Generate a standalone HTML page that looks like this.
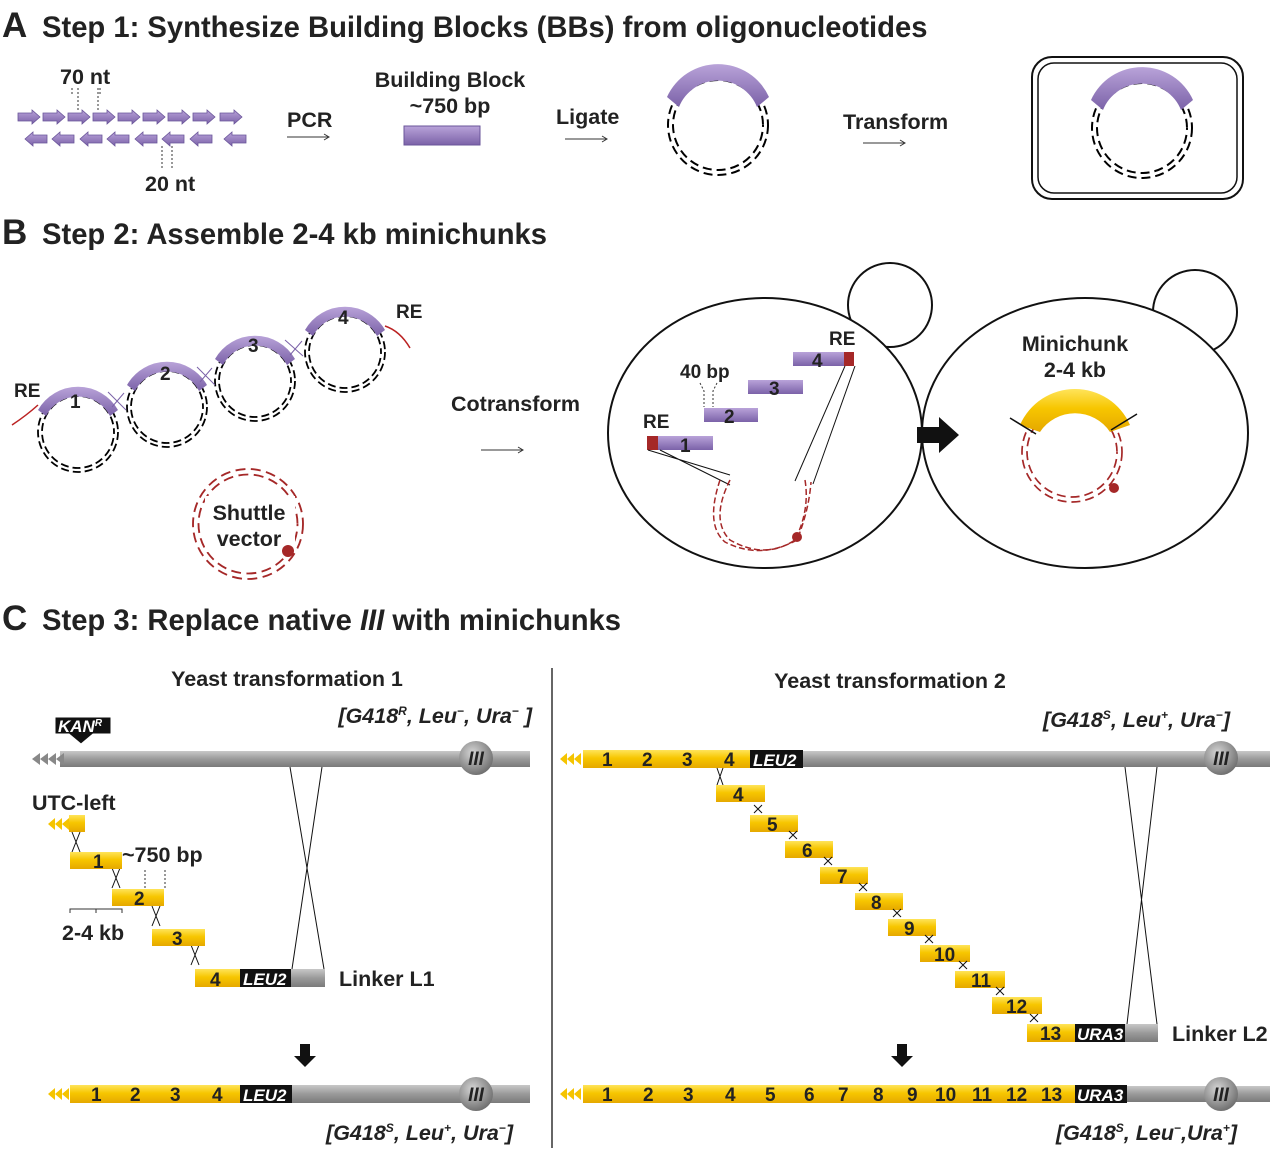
<!DOCTYPE html>
<html><head><meta charset="utf-8"><style>
html,body{margin:0;padding:0;background:#fff}
svg{display:block}
text{font-family:"Liberation Sans",Arial,sans-serif;font-weight:bold;fill:#222}
.t{font-size:29.2px}
.L{font-size:35px}
.m{font-size:21.5px}
.n{font-size:19px}
.i{font-style:italic}
.w{fill:#fff;font-style:italic;font-size:17px}
</style></head><body>
<svg width="1280" height="1158" viewBox="0 0 1280 1158" xmlns="http://www.w3.org/2000/svg">
<defs>
<linearGradient id="y" x1="0" y1="0" x2="0" y2="1"><stop offset="0" stop-color="#ffe45a"/><stop offset="0.45" stop-color="#f7c600"/><stop offset="1" stop-color="#e5a800"/></linearGradient>
<linearGradient id="p" x1="0" y1="0" x2="0" y2="1"><stop offset="0" stop-color="#b9a3d9"/><stop offset="1" stop-color="#7b62a8"/></linearGradient>
<linearGradient id="g" x1="0" y1="0" x2="0" y2="1"><stop offset="0" stop-color="#c8c8c8"/><stop offset="0.5" stop-color="#9a9a9a"/><stop offset="1" stop-color="#7a7a7a"/></linearGradient>
<radialGradient id="c" cx="0.4" cy="0.35" r="0.7"><stop offset="0" stop-color="#d5d5d5"/><stop offset="1" stop-color="#6a6a6a"/></radialGradient>
<g id="pr"><path d="M0,-4 h14 v-3 l8,7 -8,7 v-3 h-14z" fill="url(#p)" stroke="#6a559a" stroke-width="0.8"/></g>
<g id="pl"><path d="M22,-4 h-14 v-3 l-8,7 8,7 v-3 h14z" fill="url(#p)" stroke="#6a559a" stroke-width="0.8"/></g>
<g id="helix" fill="none" stroke="#000" stroke-width="2"><circle r="50" stroke-dasharray="9 5"/><circle r="45" stroke-dasharray="9 5" stroke-dashoffset="7"/></g>
<g id="rhelix" fill="none" stroke="#a52828" stroke-width="1.7"><circle r="50" stroke-dasharray="9 5"/><circle r="45" stroke-dasharray="9 5" stroke-dashoffset="7"/></g>
<g id="sh" fill="none" stroke="#000" stroke-width="1.8"><circle r="40" stroke-dasharray="8 4"/><circle r="36" stroke-dasharray="8 4" stroke-dashoffset="6"/></g>
</defs>

<!-- A -->
<text x="2" y="37" class="L">A</text><text x="42" y="37" class="t">Step 1: Synthesize Building Blocks (BBs) from oligonucleotides</text>
<g>
<use href="#pr" x="18" y="117"/><use href="#pr" x="43" y="117"/><use href="#pr" x="68" y="117"/><use href="#pr" x="93" y="117"/><use href="#pr" x="118" y="117"/><use href="#pr" x="143" y="117"/><use href="#pr" x="168" y="117"/><use href="#pr" x="193" y="117"/><use href="#pr" x="220" y="117"/>
<use href="#pl" x="25" y="139"/><use href="#pl" x="52" y="139"/><use href="#pl" x="80" y="139"/><use href="#pl" x="107" y="139"/><use href="#pl" x="135" y="139"/><use href="#pl" x="162" y="139"/><use href="#pl" x="190" y="139"/><use href="#pl" x="224" y="139"/>
</g>
<text x="60" y="84" class="m">70 nt</text>
<path d="M72,88 v6 M78,88 v22 M98,88 v22 M100,88 v6" stroke="#333" stroke-dasharray="2 2" fill="none"/>
<path d="M162,146 v22 M172,146 v22" stroke="#333" stroke-dasharray="2 2"/>
<text x="145" y="191" class="m">20 nt</text>
<text x="287" y="127" class="m">PCR</text><path d="M287,137 h42 m-5,-3 l5,3 -5,3" stroke="#333" fill="none"/>
<text x="450" y="87" class="m" text-anchor="middle">Building Block</text>
<text x="450" y="113" class="m" text-anchor="middle">~750 bp</text>
<rect x="404" y="126" width="76" height="19" fill="url(#p)" stroke="#6a559a"/>
<text x="556" y="124" class="m">Ligate</text><path d="M565,139 h42 m-5,-3 l5,3 -5,3" stroke="#333" fill="none"/>
<use href="#helix" x="718" y="125"/>
<path d="M667,97 A56 56 0 0 1 769,97 L757,107 A42 42 0 0 0 679,107 Z" fill="url(#p)"/>
<text x="843" y="129" class="m">Transform</text><path d="M863,143 h42 m-5,-3 l5,3 -5,3" stroke="#333" fill="none"/>
<rect x="1032" y="57" width="211" height="142" rx="20" fill="none" stroke="#111" stroke-width="2"/>
<rect x="1038" y="63" width="199" height="130" rx="16" fill="none" stroke="#111" stroke-width="1.5"/>
<use href="#helix" x="1142" y="128"/>
<path d="M1091,100 A56 56 0 0 1 1193,100 L1181,110 A42 42 0 0 0 1103,110 Z" fill="url(#p)"/>

<!-- B -->
<text x="2" y="244" class="L">B</text><text x="42" y="244" class="t">Step 2: Assemble 2-4 kb minichunks</text>
<use href="#sh" x="78" y="432"/><path d="M38,410 A46 46 0 0 1 118,410 L110,416 A36 36 0 0 0 46,416 Z" fill="url(#p)"/><text x="70" y="408" class="n">1</text>
<use href="#sh" x="167" y="407"/><path d="M127,385 A46 46 0 0 1 207,385 L199,391 A36 36 0 0 0 135,391 Z" fill="url(#p)"/><text x="160" y="380" class="n">2</text>
<use href="#sh" x="255" y="381"/><path d="M215,359 A46 46 0 0 1 295,359 L287,365 A36 36 0 0 0 223,365 Z" fill="url(#p)"/><text x="248" y="352" class="n">3</text>
<use href="#sh" x="345" y="352"/><path d="M305,330 A46 46 0 0 1 385,330 L377,336 A36 36 0 0 0 313,336 Z" fill="url(#p)"/><text x="338" y="324" class="n">4</text>
<path d="M12,425 q15,-10 26,-20" stroke="#b22" fill="none" stroke-width="1.5"/><text x="14" y="397" class="n">RE</text>
<path d="M385,326 q15,5 25,22" stroke="#b22" fill="none" stroke-width="1.5"/><text x="396" y="318" class="n">RE</text>
<path d="M108,392 l18,18 M197,367 l18,18 M285,340 l18,16 M112,407 l12,-14 M200,382 l12,-14 M290,355 l12,-14" stroke="#7b62a8" fill="none"/>
<use href="#rhelix" x="248" y="524" transform="translate(248 524) scale(1.1) translate(-248 -524)"/>
<rect x="205" y="496" width="90" height="56" fill="#fff"/>
<circle cx="288" cy="551" r="6" fill="#a52828"/>
<text x="249" y="520" class="m" text-anchor="middle">Shuttle</text><text x="249" y="546" class="m" text-anchor="middle">vector</text>
<text x="451" y="411" class="m">Cotransform</text><path d="M481,450 h42 m-5,-3 l5,3 -5,3" stroke="#333" fill="none"/>
<!-- cells -->
<circle cx="890" cy="305" r="42" fill="none" stroke="#111" stroke-width="2"/>
<circle cx="1195" cy="312" r="42" fill="none" stroke="#111" stroke-width="2"/>
<ellipse cx="1085" cy="433" rx="163" ry="135" fill="#fff" stroke="#111" stroke-width="2"/>
<ellipse cx="765" cy="433" rx="157" ry="135" fill="#fff" stroke="#111" stroke-width="2"/>
<path d="M917,427 h22 v-10 l20,18 -20,18 v-10 h-22z" fill="#111"/>
<rect x="657" y="436" width="56" height="14" fill="url(#p)"/><rect x="647" y="436" width="11" height="14" fill="#a52828"/><text x="680" y="452" class="n">1</text>
<rect x="704" y="408" width="54" height="14" fill="url(#p)"/><text x="724" y="423" class="n">2</text>
<rect x="748" y="380" width="55" height="14" fill="url(#p)"/><text x="769" y="395" class="n">3</text>
<rect x="793" y="352" width="52" height="14" fill="url(#p)"/><rect x="844" y="352" width="10" height="14" fill="#a52828"/><text x="812" y="367" class="n">4</text>
<text x="643" y="428" class="n">RE</text><text x="829" y="345" class="n">RE</text><text x="680" y="378" class="n">40 bp</text>
<path d="M700,383 l4,8 v16 M717,383 l-4,8 v16" stroke="#333" stroke-dasharray="2 2" fill="none"/>
<path d="M648,450 l82,25 M660,450 l70,35 M845,366 l-50,115 M855,366 l-42,118" stroke="#111" fill="none"/>
<path d="M730,480 q-20,40 0,60 q35,20 65,0 q15,-30 10,-60" stroke="#a52828" fill="none" stroke-width="1.5" stroke-dasharray="6 3"/>
<path d="M720,480 q-15,45 5,62 q35,18 72,-2 q12,-30 14,-58" stroke="#a52828" fill="none" stroke-width="1.5" stroke-dasharray="6 3"/>
<circle cx="797" cy="537" r="5" fill="#a52828"/>
<text x="1075" y="351" class="m" text-anchor="middle">Minichunk</text><text x="1075" y="377" class="m" text-anchor="middle">2-4 kb</text>
<use href="#rhelix" x="1072" y="452"/>
<path d="M1020,425 A60 60 0 0 1 1130,425 L1110,432 A42 42 0 0 0 1040,432 Z" fill="url(#y)"/>
<path d="M1010,418 l26,16 M1137,414 l-26,16" stroke="#111" stroke-width="1.5"/>
<circle cx="1114" cy="488" r="5" fill="#a52828"/>

<!-- C -->
<text x="2" y="630" class="L">C</text><text x="42" y="630" class="t">Step 3: Replace native <tspan class="i">III</tspan> with minichunks</text>
<line x1="552" y1="668" x2="552" y2="1148" stroke="#333" stroke-width="1.5"/>
<text x="287" y="686" class="m" text-anchor="middle">Yeast transformation 1</text>
<text x="890" y="688" class="m" text-anchor="middle">Yeast transformation 2</text>
<text x="532" y="723" class="m i" text-anchor="end">[G418<tspan font-size="12" dy="-8">R</tspan><tspan dy="8">, Leu</tspan><tspan font-size="12" dy="-8">−</tspan><tspan dy="8">, Ura</tspan><tspan font-size="12" dy="-8">−</tspan><tspan dy="8"> ]</tspan></text>
<text x="1230" y="727" class="m i" text-anchor="end">[G418<tspan font-size="12" dy="-8">S</tspan><tspan dy="8">, Leu</tspan><tspan font-size="12" dy="-8">+</tspan><tspan dy="8">, Ura</tspan><tspan font-size="12" dy="-8">−</tspan><tspan dy="8">]</tspan></text>
<!-- left chromosome -->
<rect x="60" y="751" width="470" height="16" fill="url(#g)"/>
<path d="M32,759 l8,-6 v12z M40,759 l8,-6 v12z M48,759 l8,-6 v12z M56,759 l8,-6 v12z" fill="#888"/>
<circle cx="476" cy="758" r="17" fill="url(#c)"/><text x="476" y="765" class="n i" text-anchor="middle" fill="#111">III</text>
<path d="M55,717 h56 v17 h-18 l-12,10 -12,-10 h-14z" fill="#111" stroke="#fff"/><text x="58" y="732" class="w" font-size="16">KAN<tspan font-size="10" dy="-6">R</tspan></text>
<text x="32" y="810" class="m">UTC-left</text>
<path d="M48,824 l7,-6 v12z M55,824 l7,-6 v12z M62,824 l7,-6 v12z" fill="#f5c400"/>
<rect x="69" y="815" width="16" height="17" fill="url(#y)"/>
<path d="M72,832 l8,20 M80,832 l-8,20 M112,868 l8,20 M120,868 l-8,20 M152,906 l8,20 M160,906 l-8,20 M191,945 l8,20 M199,945 l-8,20" stroke="#111"/>
<rect x="70" y="852" width="52" height="17" fill="url(#y)"/><text x="93" y="868" class="n">1</text>
<text x="122" y="862" class="m">~750 bp</text>
<path d="M145,870 v20 M165,870 v20" stroke="#333" stroke-dasharray="2 2"/>
<rect x="112" y="889" width="52" height="17" fill="url(#y)"/><text x="134" y="905" class="n">2</text>
<path d="M70,913 v-4 h52 v4 M96,909 v4" stroke="#333" fill="none"/>
<text x="62" y="940" class="m">2-4 kb</text>
<rect x="152" y="929" width="53" height="17" fill="url(#y)"/><text x="172" y="945" class="n">3</text>
<rect x="195" y="969" width="45" height="18" fill="url(#y)"/><text x="210" y="986" class="n">4</text>
<rect x="240" y="969" width="51" height="18" fill="#111"/><text x="243" y="985" class="w">LEU2</text>
<rect x="291" y="969" width="34" height="18" fill="url(#g)"/>
<text x="339" y="986" class="m">Linker L1</text>
<path d="M292,969 L322,767 M324,969 L290,767" stroke="#111"/>
<path d="M300,1044 h10 v12 h6 l-11,11 -11,-11 h6z" fill="#111"/>
<!-- left bottom -->
<path d="M48,1094 l7,-6 v12z M55,1094 l7,-6 v12z M62,1094 l7,-6 v12z" fill="#f5c400"/>
<rect x="70" y="1085" width="170" height="18" fill="url(#y)"/>
<rect x="240" y="1085" width="52" height="18" fill="#111"/><text x="243" y="1101" class="w">LEU2</text>
<rect x="292" y="1085" width="238" height="18" fill="url(#g)"/>
<circle cx="476" cy="1094" r="17" fill="url(#c)"/><text x="476" y="1101" class="n i" text-anchor="middle" fill="#111">III</text>
<text x="91" y="1101" class="n">1</text><text x="130" y="1101" class="n">2</text><text x="170" y="1101" class="n">3</text><text x="212" y="1101" class="n">4</text>
<text x="513" y="1140" class="m i" text-anchor="end">[G418<tspan font-size="12" dy="-8">S</tspan><tspan dy="8">, Leu</tspan><tspan font-size="12" dy="-8">+</tspan><tspan dy="8">, Ura</tspan><tspan font-size="12" dy="-8">−</tspan><tspan dy="8">]</tspan></text>
<!-- right top -->
<path d="M560,759 l7,-6 v12z M567,759 l7,-6 v12z M574,759 l7,-6 v12z" fill="#f5c400"/>
<rect x="583" y="750" width="167" height="18" fill="url(#y)"/>
<rect x="750" y="750" width="53" height="18" fill="#111"/><text x="753" y="766" class="w">LEU2</text>
<rect x="803" y="751" width="467" height="16" fill="url(#g)"/>
<circle cx="1221" cy="758" r="17" fill="url(#c)"/><text x="1221" y="765" class="n i" text-anchor="middle" fill="#111">III</text>
<text x="602" y="766" class="n">1</text><text x="642" y="766" class="n">2</text><text x="682" y="766" class="n">3</text><text x="724" y="766" class="n">4</text>
<path d="M717,768 l6,17 M723,768 l-6,17" stroke="#111"/>
<g>
<rect x="716" y="785" width="49" height="17" fill="url(#y)"/><text x="733" y="801" class="n">4</text>
<rect x="750" y="815" width="48" height="17" fill="url(#y)"/><text x="767" y="831" class="n">5</text>
<rect x="785" y="841" width="48" height="17" fill="url(#y)"/><text x="802" y="857" class="n">6</text>
<rect x="820" y="867" width="48" height="17" fill="url(#y)"/><text x="837" y="883" class="n">7</text>
<rect x="855" y="893" width="48" height="17" fill="url(#y)"/><text x="871" y="909" class="n">8</text>
<rect x="888" y="919" width="48" height="17" fill="url(#y)"/><text x="904" y="935" class="n">9</text>
<rect x="920" y="945" width="50" height="17" fill="url(#y)"/><text x="934" y="961" class="n">10</text>
<rect x="955" y="971" width="50" height="17" fill="url(#y)"/><text x="971" y="987" class="n">11</text>
<rect x="992" y="997" width="50" height="17" fill="url(#y)"/><text x="1006" y="1013" class="n">12</text>
<rect x="1027" y="1024" width="48" height="18" fill="url(#y)"/><text x="1040" y="1040" class="n">13</text>
<rect x="1075" y="1024" width="50" height="18" fill="#111"/><text x="1077" y="1040" class="w">URA3</text>
<rect x="1125" y="1024" width="33" height="18" fill="url(#g)"/>
</g>
<g stroke="#111">
<path d="M754,805 l8,8 M762,805 l-8,8 M789,831 l8,8 M797,831 l-8,8 M824,857 l8,8 M832,857 l-8,8 M859,883 l8,8 M867,883 l-8,8 M893,909 l8,8 M901,909 l-8,8 M925,935 l8,8 M933,935 l-8,8 M959,961 l8,8 M967,961 l-8,8 M996,987 l8,8 M1004,987 l-8,8 M1030,1014 l8,8 M1038,1014 l-8,8"/>
<path d="M1127,1024 L1157,767 M1157,1024 L1125,767"/>
</g>
<text x="1172" y="1041" class="m">Linker L2</text>
<path d="M897,1044 h10 v12 h6 l-11,11 -11,-11 h6z" fill="#111"/>
<!-- right bottom -->
<path d="M560,1094 l7,-6 v12z M567,1094 l7,-6 v12z M574,1094 l7,-6 v12z" fill="#f5c400"/>
<rect x="583" y="1085" width="492" height="18" fill="url(#y)"/>
<rect x="1075" y="1085" width="52" height="18" fill="#111"/><text x="1077" y="1101" class="w">URA3</text>
<rect x="1127" y="1086" width="143" height="16" fill="url(#g)"/>
<circle cx="1221" cy="1094" r="17" fill="url(#c)"/><text x="1221" y="1101" class="n i" text-anchor="middle" fill="#111">III</text>
<text x="602" y="1101" class="n">1</text><text x="643" y="1101" class="n">2</text><text x="683" y="1101" class="n">3</text><text x="725" y="1101" class="n">4</text><text x="765" y="1101" class="n">5</text><text x="804" y="1101" class="n">6</text><text x="838" y="1101" class="n">7</text><text x="873" y="1101" class="n">8</text><text x="907" y="1101" class="n">9</text><text x="935" y="1101" class="n">10</text><text x="972" y="1101" class="n">11</text><text x="1006" y="1101" class="n">12</text><text x="1041" y="1101" class="n">13</text>
<text x="1237" y="1140" class="m i" text-anchor="end">[G418<tspan font-size="12" dy="-8">S</tspan><tspan dy="8">, Leu</tspan><tspan font-size="12" dy="-8">−</tspan><tspan dy="8">,Ura</tspan><tspan font-size="12" dy="-8">+</tspan><tspan dy="8">]</tspan></text>
</svg>
</body></html>
